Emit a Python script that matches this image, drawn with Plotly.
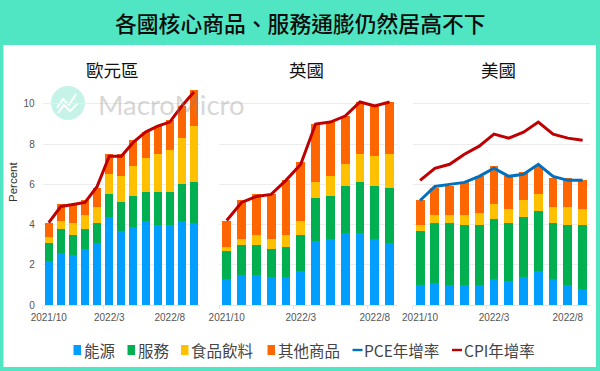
import plotly.graph_objects as go

W, H = 600, 371
FONT_CJK = "Noto Sans CJK TC"
FONT_LAT = "Liberation Sans, Arial, sans-serif"

months_eu = ["2021/10","2021/11","2021/12","2022/1","2022/2","2022/3","2022/4","2022/5","2022/6","2022/7","2022/8","2022/9","2022/10"]
months_uk = months_eu[:12]
months_us = months_eu[:12]

eu_energy   = [2.2,2.6,2.5,2.8,3.1,4.4,3.7,3.9,4.2,4.0,4.0,4.2,4.1]
eu_services = [0.9,1.2,1.0,1.0,1.0,1.1,1.4,1.5,1.4,1.6,1.6,1.8,2.0]
eu_food     = [0.3,0.4,0.6,0.7,0.8,1.0,1.3,1.5,1.7,1.9,2.1,2.3,2.8]
eu_other    = [0.7,0.8,0.9,0.7,0.9,1.0,1.1,1.3,1.3,1.4,1.5,1.6,1.8]
eu_cpi      = [4.1,4.9,5.0,5.1,5.9,7.4,7.4,8.1,8.6,8.9,9.1,9.9,10.6]

uk_energy   = [1.3,1.5,1.5,1.4,1.4,1.7,3.2,3.3,3.6,3.6,3.3,3.1]
uk_services = [1.4,1.5,1.5,1.4,1.5,1.8,2.1,2.1,2.3,2.5,2.6,2.7]
uk_food     = [0.2,0.3,0.5,0.5,0.6,0.7,0.8,1.0,1.1,1.4,1.5,1.7]
uk_other    = [1.3,1.9,2.0,2.2,2.7,2.9,2.9,2.7,2.4,2.6,2.5,2.6]
uk_cpi      = [4.2,5.1,5.4,5.5,6.2,7.0,9.0,9.1,9.4,10.1,9.9,10.1]

us_energy   = [1.0,1.1,1.0,1.0,1.0,1.3,1.2,1.4,1.7,1.3,1.0,0.8]
us_services = [2.7,3.0,3.1,3.0,3.0,3.0,2.9,3.0,3.0,2.8,3.0,3.2]
us_food     = [0.3,0.4,0.4,0.5,0.6,0.7,0.7,0.8,0.8,0.8,0.9,0.8]
us_other    = [1.2,1.3,1.4,1.6,1.8,1.9,1.6,1.4,1.4,1.4,1.4,1.4]
us_pce      = [5.2,5.9,6.0,6.1,6.4,6.8,6.4,6.5,7.0,6.4,6.2,6.2]
us_cpi      = [6.2,6.8,7.0,7.5,7.9,8.5,8.3,8.6,9.1,8.5,8.3,8.2]

stack_names = ["能源","服務","食品飲料","其他商品"]
stack_colors = ["#009FFF","#00B050","#FFC000","#FF6600"]
pce_name, cpi_name = "PCE年增率", "CPI年增率"
pce_color, cpi_color = "#0070C0", "#C00000"
teal = "#50E6C3"

title_text = "各國核心商品、服務通膨仍然居高不下"
y_title = "Percent"
yticks = [0,2,4,6,8,10]
ymax = 10.72

panels = [
    dict(name="歐元區", x=months_eu, stacks=[eu_energy,eu_services,eu_food,eu_other], pce=None, cpi=eu_cpi, left=42.7, right=200, cx=112, barw=0.66),
    dict(name="英國",   x=months_uk, stacks=[uk_energy,uk_services,uk_food,uk_other], pce=None, cpi=uk_cpi, left=219.3, right=397, cx=306, barw=0.6),
    dict(name="美國",   x=months_us, stacks=[us_energy,us_services,us_food,us_other], pce=us_pce, cpi=us_cpi, left=412.7, right=590, cx=498, barw=0.6),
]

plot_bottom_px, plot_top_px = 305, 89.5

fig = go.Figure()
layout = {}
annotations = []
shapes = [dict(type="rect", xref="paper", yref="paper", x0=3.5/W, x1=596/W, y0=1-367/H, y1=1-45/H,
               fillcolor="white", line_width=0, layer="below")]

for i, p in enumerate(panels):
    sfx = "" if i == 0 else str(i+1)
    xa, ya = f"x{sfx}", f"y{sfx}"
    for name, color, vals in zip(stack_names, stack_colors, p["stacks"]):
        fig.add_trace(go.Bar(x=p["x"], y=vals, name=name, marker=dict(color=color, line_width=0),
                             width=p["barw"], xaxis=xa, yaxis=ya, showlegend=False))
    if p["pce"] is not None:
        fig.add_trace(go.Scatter(x=p["x"], y=p["pce"], name=pce_name, mode="lines",
                                 line=dict(color=pce_color, width=3), xaxis=xa, yaxis=ya, showlegend=False))
    fig.add_trace(go.Scatter(x=p["x"], y=p["cpi"], name=cpi_name, mode="lines",
                             line=dict(color=cpi_color, width=3), xaxis=xa, yaxis=ya, showlegend=False))
    layout[f"xaxis{sfx}"] = dict(
        domain=[p["left"]/W, p["right"]/W], anchor=ya, type="category", automargin=False,
        categoryorder="array", categoryarray=p["x"], range=[-0.5, len(p["x"])-0.5],
        tickson="boundaries", dtick=5, tick0=0, ticks="outside", ticklen=3, tickcolor="#e4e4e4",
        showgrid=False, showline=True, linecolor="#e4e4e4", linewidth=1, tickangle=0,
        ticklabelstandoff=3,
        tickfont=dict(family=FONT_LAT, size=10, color="#555555"))
    layout[f"yaxis{sfx}"] = dict(
        domain=[1-plot_bottom_px/H, 1-plot_top_px/H], anchor=xa, range=[0, ymax], automargin=False,
        tickvals=yticks, showgrid=True, gridcolor="#ececec", gridwidth=1, zeroline=False,
        showticklabels=i == 0, tickfont=dict(family=FONT_LAT, size=10, color="#555555"),
        ticklabelstandoff=7)
    annotations.append(dict(text=p["name"], xref="paper", yref="paper", x=p["cx"]/W, y=1-69/H,
                            showarrow=False, xanchor="center", yanchor="middle",
                            font=dict(family=FONT_CJK, size=17.5, color="#111111", weight=400)))

# Percent axis title
annotations.append(dict(text=y_title, xref="paper", yref="paper", x=13/W, y=1-182/H, textangle=-90,
                        showarrow=False, xanchor="center", yanchor="middle",
                        font=dict(family=FONT_LAT, size=11.5, color="#333333")))
# Header title
annotations.append(dict(text=title_text, xref="paper", yref="paper", x=300/W, y=1-22/H,
                        showarrow=False, xanchor="center", yanchor="middle",
                        font=dict(family=FONT_CJK, size=21.8, color="#0c0c0c", weight=500)))
# Watermark
annotations.append(dict(text="MacroMicro", xref="paper", yref="paper", x=96/W, y=1-104/H,
                        showarrow=False, xanchor="left", yanchor="middle", opacity=0.33,
                        font=dict(family="Lato, sans-serif", size=27.5, color="#888888")))
shapes.append(dict(type="circle", xref="paper", yref="paper", x0=51/W, x1=85/W, y0=1-120/H, y1=1-86/H,
                   fillcolor="#C6F3E7", line_width=0, layer="below"))
zig = [(57,108),(63,99),(69,105),(76,94)]
zig2 = [(58,113),(64,105),(70,111),(78,103)]
for z in (zig, zig2):
    path = "M " + " L ".join(f"{a/W:.4f},{1-b/H:.4f}" for a, b in z)
    shapes.append(dict(type="path", xref="paper", yref="paper", path=path, line=dict(color="white", width=2), layer="below"))

# Legend row (compact swatches as in the reference)
leg_y = 350
legend_rows = [
    (stack_names[0], stack_colors[0], 73.5, 81.5, "box"),
    (stack_names[1], stack_colors[1], 127.5, 135.5, "box"),
    (stack_names[2], stack_colors[2], 181, 189, "box"),
    (stack_names[3], stack_colors[3], 267.5, 275.5, "box"),
    (pce_name, pce_color, 352.5, 361.5, "line"),
    (cpi_name, cpi_color, 452, 461.5, "line"),
]
for name, color, sx, tx, kind in legend_rows:
    if kind == "box":
        shapes.append(dict(type="rect", xref="paper", yref="paper", x0=sx/W, x1=(sx+7.5)/W,
                           y0=1-(leg_y+5)/H, y1=1-(leg_y-5)/H, fillcolor=color, line_width=0))
    else:
        shapes.append(dict(type="rect", xref="paper", yref="paper", x0=sx/W, x1=(sx+10)/W,
                           y0=1-(leg_y+1.2)/H, y1=1-(leg_y-1.2)/H, fillcolor=color, line_width=0))
    annotations.append(dict(text=name, xref="paper", yref="paper", x=tx/W, y=1-leg_y/H, showarrow=False,
                            xanchor="left", yanchor="middle",
                            font=dict(family=FONT_CJK, size=15.5, color="#444444")))

fig.update_layout(width=W, height=H, margin=dict(l=0, r=0, t=0, b=0, pad=0), barmode="stack",
                  paper_bgcolor=teal, plot_bgcolor="rgba(0,0,0,0)", showlegend=False,
                  annotations=annotations, shapes=shapes, **layout)
fig.write_html("out.html", config={"displayModeBar": False},
               post_script="document.body.style.margin='0';document.documentElement.style.overflow='hidden';")
